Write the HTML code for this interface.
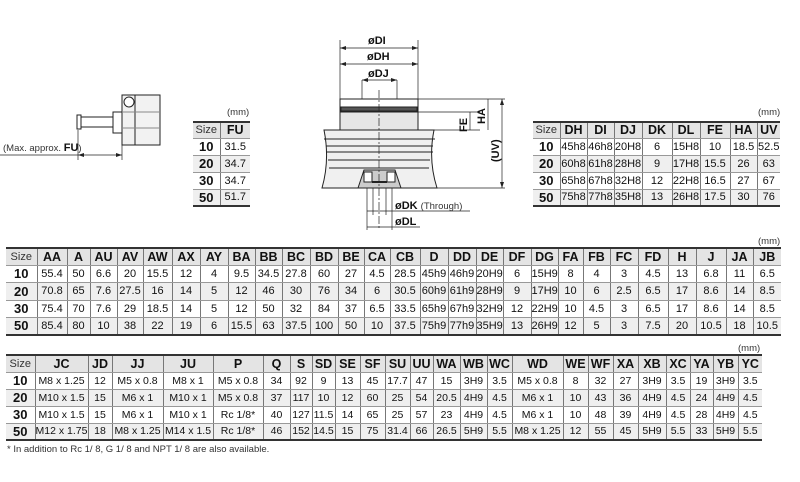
<!DOCTYPE html>
<html><head><meta charset="utf-8"><style>
body{margin:0;width:800px;height:482px;background:#fff;position:relative;overflow:hidden;font-family:"Liberation Sans",Arial,sans-serif;color:#111}
table{position:absolute;border-collapse:collapse;table-layout:fixed;font-size:11px;border-top:2px solid #333;border-bottom:2px solid #333}
table.b{font-size:10.5px}
td{padding:0;border-left:1px solid #777;border-bottom:1px solid #999;white-space:nowrap;overflow:hidden;text-align:center}
td:first-child{border-left:none;font-weight:bold;font-size:13px}
tr:first-child td{background:#e4e4e4;font-weight:bold;font-size:12.5px}
tr:first-child td:first-child{font-weight:normal;font-size:11px;color:#333}
tr.g td{background:#efefef}
.mm{position:absolute;font-size:9.5px;color:#333}
</style></head><body>

<svg width="800" height="482" style="position:absolute;left:0;top:0" font-family="Liberation Sans, sans-serif">
<g stroke="#222" fill="#fff" stroke-width="1">
<rect x="80" y="117" width="35" height="10"/>
<rect x="77" y="115" width="4" height="14"/>
<rect x="113" y="112" width="11" height="21"/>
<rect x="122" y="95" width="38" height="50" fill="#f2f2f2"/>
<line x1="135" y1="95" x2="135" y2="145"/>
<line x1="122" y1="112" x2="160" y2="112" stroke="#888"/>
<line x1="122" y1="128" x2="160" y2="128" stroke="#888"/>
<circle cx="129" cy="102" r="5"/>
<line x1="78" y1="130" x2="78" y2="160" stroke-width=".7"/>
<line x1="122" y1="145" x2="122" y2="160" stroke-width=".7"/>
<line x1="0" y1="155" x2="122" y2="155" stroke-width=".7"/>
</g>
<polygon points="78,155 84,153 84,157" fill="#222"/><polygon points="122,155 116,153 116,157" fill="#222"/>
<text x="3" y="151" font-size="9.5" fill="#333">(Max. approx. <tspan font-weight="bold" font-size="11" fill="#111">FU</tspan>)</text>

<g stroke="#222" stroke-width="1" fill="#fff">
<rect x="340" y="99" width="78" height="31" fill="#e6e6e6"/>
<rect x="340" y="99" width="78" height="13" fill="#fff"/>
<rect x="341" y="107" width="76" height="4" fill="#555"/>
<path d="M324,130 L434,130 Q428,160 437,188 L322,188 Q330,160 324,130 Z" fill="#f0f0f0"/>
<line x1="324" y1="139" x2="435" y2="139"/><line x1="326" y1="146" x2="433" y2="146"/>
<line x1="326" y1="152" x2="433" y2="152"/><line x1="328" y1="160" x2="430" y2="160"/>
<line x1="329" y1="168" x2="429" y2="168"/>
<path d="M358,188 L364,170 L395,170 L401,188 Z" fill="#ccc"/>
<rect x="364" y="172" width="8" height="10"/><rect x="387" y="172" width="8" height="10"/>
<line x1="372" y1="182" x2="387" y2="182" stroke-width="2"/>
<line x1="379" y1="90" x2="379" y2="230" stroke-dasharray="8,2,2,2" stroke-width=".7"/>
<g stroke-width=".7">
<line x1="340" y1="40" x2="340" y2="99"/><line x1="418" y1="40" x2="418" y2="99"/>
<line x1="340" y1="48" x2="418" y2="48"/><line x1="340" y1="64" x2="418" y2="64"/>
<line x1="362" y1="80" x2="397" y2="80"/><line x1="362" y1="80" x2="362" y2="99"/><line x1="397" y1="80" x2="397" y2="99"/>
<line x1="418" y1="99" x2="505" y2="99"/><line x1="418" y1="112" x2="480" y2="112"/><line x1="434" y1="130" x2="480" y2="130"/><line x1="437" y1="188" x2="505" y2="188"/>
<line x1="502" y1="99" x2="502" y2="188"/><line x1="470" y1="112" x2="470" y2="130"/><line x1="488" y1="99" x2="488" y2="130"/>
<line x1="367" y1="188" x2="367" y2="230"/><line x1="373" y1="188" x2="373" y2="215"/><line x1="386" y1="188" x2="386" y2="215"/><line x1="392" y1="188" x2="392" y2="230"/>
<line x1="367" y1="211" x2="470" y2="211"/><line x1="367" y1="227" x2="420" y2="227"/>
</g></g>
<g fill="#222">
<polygon points="340,48 346,46 346,50"/><polygon points="418,48 412,46 412,50"/>
<polygon points="340,64 346,62 346,66"/><polygon points="418,64 412,62 412,66"/>
<polygon points="362,80 368,78 368,82"/><polygon points="397,80 391,78 391,82"/>
<polygon points="502,99 500,105 504,105"/><polygon points="502,188 500,182 504,182"/>
</g>
<g font-weight="bold" font-size="11" fill="#111">
<text x="368" y="44">øDI</text><text x="367" y="60">øDH</text><text x="368" y="77">øDJ</text>
<text x="395" y="209">øDK <tspan font-weight="normal" font-size="9.5" fill="#333">(Through)</tspan></text>
<text x="395" y="225">øDL</text>
<text transform="translate(467,132) rotate(-90)">FE</text>
<text transform="translate(485,124) rotate(-90)">HA</text>
<text transform="translate(499,162) rotate(-90)">(UV)</text>
</g>
</svg>

<div class="mm" style="left:227px;top:107px">(mm)</div>
<table style="left:193px;top:121px;width:57px">
<col style="width:27px"><col style="width:30px">
<tr style="height:16px"><td>Size</td><td>FU</td></tr>
<tr style="height:17px"><td>10</td><td>31.5</td></tr>
<tr class="g" style="height:17px"><td>20</td><td>34.7</td></tr>
<tr style="height:17px"><td>30</td><td>34.7</td></tr>
<tr class="g" style="height:17px"><td>50</td><td>51.7</td></tr>
</table>

<div class="mm" style="left:758px;top:107px">(mm)</div>
<table style="left:533px;top:121px;width:247px">
<col style="width:27px"><col style="width:27px"><col style="width:27px"><col style="width:28px"><col style="width:30px"><col style="width:28px"><col style="width:30px"><col style="width:27px"><col style="width:23px">
<tr style="height:16px"><td>Size</td><td>DH</td><td>DI</td><td>DJ</td><td>DK</td><td>DL</td><td>FE</td><td>HA</td><td>UV</td></tr>
<tr style="height:17px"><td>10</td><td>45h8</td><td>46h8</td><td>20H8</td><td>6</td><td>15H8</td><td>10</td><td>18.5</td><td>52.5</td></tr>
<tr class="g" style="height:17px"><td>20</td><td>60h8</td><td>61h8</td><td>28H8</td><td>9</td><td>17H8</td><td>15.5</td><td>26</td><td>63</td></tr>
<tr style="height:17px"><td>30</td><td>65h8</td><td>67h8</td><td>32H8</td><td>12</td><td>22H8</td><td>16.5</td><td>27</td><td>67</td></tr>
<tr class="g" style="height:17px"><td>50</td><td>75h8</td><td>77h8</td><td>35H8</td><td>13</td><td>26H8</td><td>17.5</td><td>30</td><td>76</td></tr>
</table>

<div class="mm" style="left:758px;top:236px">(mm)</div>
<table style="left:6px;top:247px;width:775px">
<col style="width:31px"><col style="width:30px"><col style="width:23px"><col style="width:27px"><col style="width:26px"><col style="width:29px"><col style="width:28px"><col style="width:28px"><col style="width:27px"><col style="width:27px"><col style="width:28px"><col style="width:28px"><col style="width:26px"><col style="width:26px"><col style="width:30px"><col style="width:28px"><col style="width:28px"><col style="width:27px"><col style="width:28px"><col style="width:27px"><col style="width:25px"><col style="width:27px"><col style="width:28px"><col style="width:30px"><col style="width:28px"><col style="width:30px"><col style="width:27px"><col style="width:28px">
<tr style="height:17px"><td>Size</td><td>AA</td><td>A</td><td>AU</td><td>AV</td><td>AW</td><td>AX</td><td>AY</td><td>BA</td><td>BB</td><td>BC</td><td>BD</td><td>BE</td><td>CA</td><td>CB</td><td>D</td><td>DD</td><td>DE</td><td>DF</td><td>DG</td><td>FA</td><td>FB</td><td>FC</td><td>FD</td><td>H</td><td>J</td><td>JA</td><td>JB</td></tr>
<tr style="height:17px"><td>10</td><td>55.4</td><td>50</td><td>6.6</td><td>20</td><td>15.5</td><td>12</td><td>4</td><td>9.5</td><td>34.5</td><td>27.8</td><td>60</td><td>27</td><td>4.5</td><td>28.5</td><td>45h9</td><td>46h9</td><td>20H9</td><td>6</td><td>15H9</td><td>8</td><td>4</td><td>3</td><td>4.5</td><td>13</td><td>6.8</td><td>11</td><td>6.5</td></tr>
<tr class="g" style="height:18px"><td>20</td><td>70.8</td><td>65</td><td>7.6</td><td>27.5</td><td>16</td><td>14</td><td>5</td><td>12</td><td>46</td><td>30</td><td>76</td><td>34</td><td>6</td><td>30.5</td><td>60h9</td><td>61h9</td><td>28H9</td><td>9</td><td>17H9</td><td>10</td><td>6</td><td>2.5</td><td>6.5</td><td>17</td><td>8.6</td><td>14</td><td>8.5</td></tr>
<tr style="height:17px"><td>30</td><td>75.4</td><td>70</td><td>7.6</td><td>29</td><td>18.5</td><td>14</td><td>5</td><td>12</td><td>50</td><td>32</td><td>84</td><td>37</td><td>6.5</td><td>33.5</td><td>65h9</td><td>67h9</td><td>32H9</td><td>12</td><td>22H9</td><td>10</td><td>4.5</td><td>3</td><td>6.5</td><td>17</td><td>8.6</td><td>14</td><td>8.5</td></tr>
<tr class="g" style="height:18px"><td>50</td><td>85.4</td><td>80</td><td>10</td><td>38</td><td>22</td><td>19</td><td>6</td><td>15.5</td><td>63</td><td>37.5</td><td>100</td><td>50</td><td>10</td><td>37.5</td><td>75h9</td><td>77h9</td><td>35H9</td><td>13</td><td>26H9</td><td>12</td><td>5</td><td>3</td><td>7.5</td><td>20</td><td>10.5</td><td>18</td><td>10.5</td></tr>
</table>

<div class="mm" style="left:738px;top:343px">(mm)</div>
<table class="b" style="left:6px;top:354px;width:756px">
<col style="width:29px"><col style="width:53px"><col style="width:24px"><col style="width:51px"><col style="width:50px"><col style="width:50px"><col style="width:27px"><col style="width:22px"><col style="width:23px"><col style="width:25px"><col style="width:25px"><col style="width:25px"><col style="width:23px"><col style="width:27px"><col style="width:27px"><col style="width:25px"><col style="width:51px"><col style="width:25px"><col style="width:25px"><col style="width:25px"><col style="width:28px"><col style="width:24px"><col style="width:23px"><col style="width:25px"><col style="width:24px">
<tr style="height:17px"><td>Size</td><td>JC</td><td>JD</td><td>JJ</td><td>JU</td><td>P</td><td>Q</td><td>S</td><td>SD</td><td>SE</td><td>SF</td><td>SU</td><td>UU</td><td>WA</td><td>WB</td><td>WC</td><td>WD</td><td>WE</td><td>WF</td><td>XA</td><td>XB</td><td>XC</td><td>YA</td><td>YB</td><td>YC</td></tr>
<tr style="height:17px"><td>10</td><td>M8 x 1.25</td><td>12</td><td>M5 x 0.8</td><td>M8 x 1</td><td>M5 x 0.8</td><td>34</td><td>92</td><td>9</td><td>13</td><td>45</td><td>17.7</td><td>47</td><td>15</td><td>3H9</td><td>3.5</td><td>M5 x 0.8</td><td>8</td><td>32</td><td>27</td><td>3H9</td><td>3.5</td><td>19</td><td>3H9</td><td>3.5</td></tr>
<tr class="g" style="height:17px"><td>20</td><td>M10 x 1.5</td><td>15</td><td>M6 x 1</td><td>M10 x 1</td><td>M5 x 0.8</td><td>37</td><td>117</td><td>10</td><td>12</td><td>60</td><td>25</td><td>54</td><td>20.5</td><td>4H9</td><td>4.5</td><td>M6 x 1</td><td>10</td><td>43</td><td>36</td><td>4H9</td><td>4.5</td><td>24</td><td>4H9</td><td>4.5</td></tr>
<tr style="height:17px"><td>30</td><td>M10 x 1.5</td><td>15</td><td>M6 x 1</td><td>M10 x 1</td><td>Rc 1/8*</td><td>40</td><td>127</td><td>11.5</td><td>14</td><td>65</td><td>25</td><td>57</td><td>23</td><td>4H9</td><td>4.5</td><td>M6 x 1</td><td>10</td><td>48</td><td>39</td><td>4H9</td><td>4.5</td><td>28</td><td>4H9</td><td>4.5</td></tr>
<tr class="g" style="height:17px"><td>50</td><td>M12 x 1.75</td><td>18</td><td>M8 x 1.25</td><td>M14 x 1.5</td><td>Rc 1/8*</td><td>46</td><td>152</td><td>14.5</td><td>15</td><td>75</td><td>31.4</td><td>66</td><td>26.5</td><td>5H9</td><td>5.5</td><td>M8 x 1.25</td><td>12</td><td>55</td><td>45</td><td>5H9</td><td>5.5</td><td>33</td><td>5H9</td><td>5.5</td></tr>
</table>
<div class="mm" style="left:7px;top:444px;font-size:9.5px">* In addition to Rc 1/ 8, G 1/ 8 and NPT 1/ 8 are also available.</div>
</body></html>
